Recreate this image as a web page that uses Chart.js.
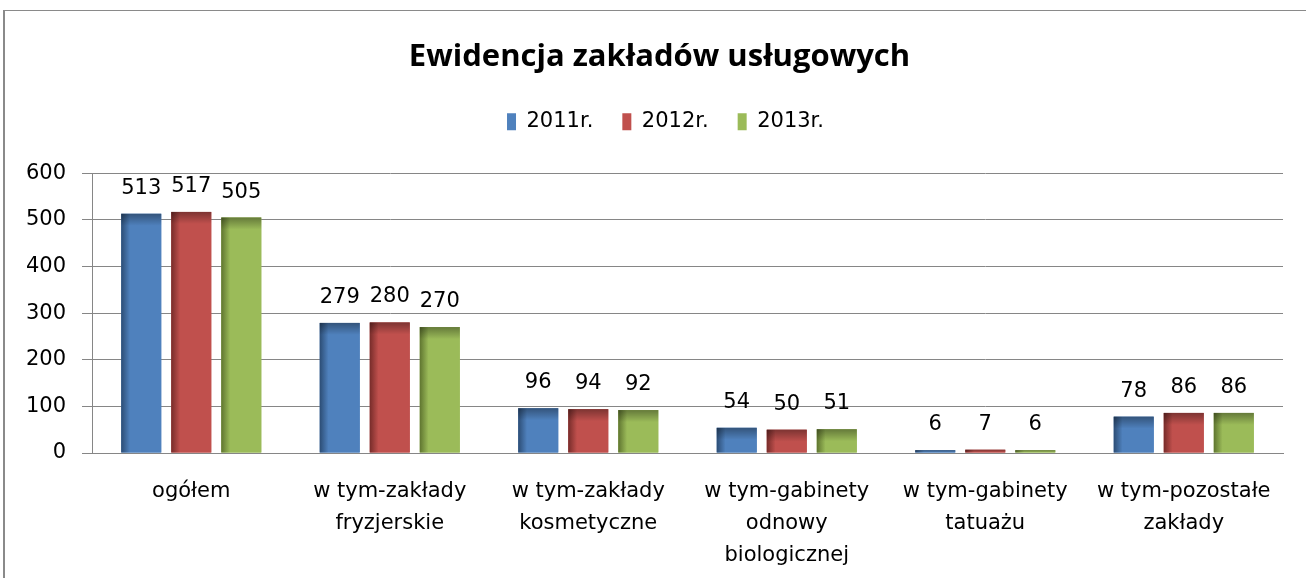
<!DOCTYPE html>
<html>
<head>
<meta charset="utf-8">
<script src="https://cdn.jsdelivr.net/npm/chart.js@4"></script>
<style>
html,body{margin:0;padding:0;background:#fff;}
#wrap{width:1306px;height:578px;position:relative;}
</style>
</head>
<body>
<div id="wrap"><canvas id="c" width="1306" height="578"></canvas></div>
<script>
const categories = [
  ["ogółem"],
  ["w tym-zakłady", "fryzjerskie"],
  ["w tym-zakłady", "kosmetyczne"],
  ["w tym-gabinety", "odnowy", "biologicznej"],
  ["w tym-gabinety", "tatuażu"],
  ["w tym-pozostałe", "zakłady"]
];
const seriesNames = ["2011r.", "2012r.", "2013r."];
const values2011 = [513, 279, 96, 54, 6, 78];
const values2012 = [517, 280, 94, 50, 7, 86];
const values2013 = [505, 270, 92, 51, 6, 86];
const yTicks = [0, 100, 200, 300, 400, 500, 600];
const titleText = "Ewidencja zakładów usługowych";

const baseColors = ["#4F81BD", "#C0504D", "#9BBB59"];
const darkColors = ["#2C4D75", "#772C2A", "#5F7530"];
const FONT = "'DejaVu Sans', sans-serif";
const TITLE_FONT = "'Open Sans', sans-serif";

function shiftDraw(box, dx) {
  const origDraw = box.draw.bind(box);
  box.draw = function (area) {
    const ctx = this.ctx;
    ctx.save();
    ctx.translate(dx, 0);
    origDraw(area);
    ctx.restore();
  };
}

const frame = {
  id: 'frame',
  afterInit(chart) {
    const lg = chart.legend;
    if (lg) {
      const origFit = lg.fit.bind(lg);
      lg.fit = function () { origFit(); this.height = 91; };
      shiftDraw(lg, 24);
    }
    if (chart.titleBlock) shiftDraw(chart.titleBlock, 18);
  },
  beforeDraw(chart) {
    const ctx = chart.ctx;
    ctx.save();
    ctx.fillStyle = '#fff';
    ctx.fillRect(0, 0, chart.width, chart.height);
    ctx.fillStyle = '#8a8a8a';
    ctx.fillRect(3, 10, 2, chart.height - 10);
    ctx.fillRect(3, 10, chart.width - 3, 1);
    ctx.restore();
  }
};

const shading = {
  id: 'shading',
  afterDatasetsDraw(chart) {
    const ctx = chart.ctx;
    ctx.save();
    chart.data.datasets.forEach((ds, di) => {
      const meta = chart.getDatasetMeta(di);
      meta.data.forEach((el) => {
        const left = el.x - el.width / 2;
        const top = el.y;
        const h = el.base - el.y;
        const w = el.width;
        let g = ctx.createLinearGradient(left, 0, left + w, 0);
        g.addColorStop(0, darkColors[di]);
        g.addColorStop(0.22, baseColors[di]);
        g.addColorStop(1, baseColors[di]);
        ctx.fillStyle = g;
        ctx.fillRect(left, top, w, h);
        const th = Math.min(12, h);
        g = ctx.createLinearGradient(0, top, 0, top + th);
        g.addColorStop(0, 'rgba(0,0,0,0.35)');
        g.addColorStop(1, 'rgba(0,0,0,0)');
        ctx.fillStyle = g;
        ctx.fillRect(left, top, w, th);
      });
    });
    // data labels
    ctx.fillStyle = '#000';
    ctx.font = "21px " + FONT;
    ctx.textAlign = 'center';
    ctx.textBaseline = 'alphabetic';
    chart.data.datasets.forEach((ds, di) => {
      const meta = chart.getDatasetMeta(di);
      meta.data.forEach((el, i) => {
        ctx.fillText(String(ds.data[i]), el.x, el.y - 20);
      });
    });
    ctx.restore();
  }
};

new Chart(document.getElementById('c'), {
  type: 'bar',
  data: {
    labels: categories,
    datasets: [
      { label: seriesNames[0], data: values2011, backgroundColor: baseColors[0] },
      { label: seriesNames[1], data: values2012, backgroundColor: baseColors[1] },
      { label: seriesNames[2], data: values2013, backgroundColor: baseColors[2] }
    ]
  },
  options: {
    responsive: false,
    animation: false,
    layout: { padding: { left: 0, right: 23, top: 0, bottom: 0 } },
    datasets: { bar: { categoryPercentage: 0.756, barPercentage: 0.8 } },
    plugins: {
      title: {
        display: true,
        text: titleText,
        color: '#000',
        font: { family: TITLE_FONT, size: 31, weight: 'bold', lineHeight: 1.2 },
        padding: { top: 39, bottom: 6 }
      },
      legend: {
        display: true,
        position: 'top',
        labels: {
          color: '#000',
          font: { family: FONT, size: 21 },
          boxWidth: 9,
          boxHeight: 17,
          padding: 29
        }
      },
      tooltip: { enabled: false }
    },
    scales: {
      x: {
        grid: { display: false, drawTicks: false },
        border: { display: true, color: '#868686', width: 1 },
        ticks: { color: '#000', font: { family: FONT, size: 21, lineHeight: 1.52 }, padding: 23, maxRotation: 0, autoSkip: false },
        afterFit(scale) { scale.height = 125; }
      },
      y: {
        min: 0,
        max: 600,
        afterBuildTicks(scale) { scale.ticks = yTicks.map(v => ({ value: v })); },
        grid: { color: '#868686', tickLength: 10, drawTicks: true },
        border: { display: true, color: '#868686', width: 1 },
        ticks: { color: '#000', font: { family: FONT, size: 21 }, padding: 16 },
        afterFit(scale) { scale.width = 92; }
      }
    }
  },
  plugins: [frame, shading]
});
</script>
</body>
</html>
